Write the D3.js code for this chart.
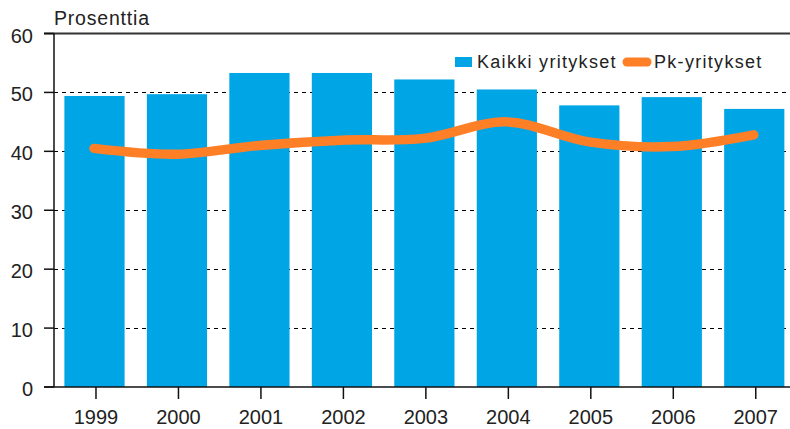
<script src="https://d3js.org/d3.v7.min.js"></script>
<style>
body { margin: 0; background: #fff; }
svg { display: block; font-family: Arial, "Liberation Sans", sans-serif; }
.tick-label { font-size: 20px; fill: #222; }
</style>
<svg width="790" height="429"></svg>
<script>
const years = ['1999', '2000', '2001', '2002', '2003', '2004', '2005', '2006', '2007'];
const kaikki = [49.4, 49.7, 53.3, 53.3, 52.2, 50.5, 47.8, 49.2, 47.2];
const pk = [40.5, 39.5, 41.0, 41.9, 42.2, 45.0, 41.6, 40.8, 42.8];
const yTicks = [0, 10, 20, 30, 40, 50, 60];

const svg = d3.select('svg');
const plotLeft = 54, plotRight = 797, plotTop = 33.5, plotBottom = 387;

const x = d3.scaleBand().domain(years).range([plotLeft + 0.75, plotRight])
  .paddingInner(0.27).paddingOuter(0.135);
const y = d3.scaleLinear().domain([0, 60]).range([plotBottom, plotTop]);

// dashed grid lines
svg.append('g')
  .selectAll('line')
  .data(yTicks.filter(d => d > 0 && d < 60))
  .join('line')
  .attr('x1', plotLeft).attr('x2', 790)
  .attr('y1', d => Math.round(y(d)) + 0.5).attr('y2', d => Math.round(y(d)) + 0.5)
  .attr('stroke', '#000')
  .attr('stroke-width', 1.2)
  .attr('stroke-dasharray', '4,4');

// bars
svg.append('g')
  .selectAll('rect')
  .data(kaikki)
  .join('rect')
  .attr('x', (d, i) => x(years[i]) - 1.5)
  .attr('width', x.bandwidth())
  .attr('y', d => y(d))
  .attr('height', d => plotBottom - y(d))
  .attr('fill', '#00a5e6');

// top frame line
svg.append('line')
  .attr('x1', 44).attr('x2', 790)
  .attr('y1', plotTop).attr('y2', plotTop)
  .attr('stroke', '#333').attr('stroke-width', 2);

// y axis
svg.append('line')
  .attr('x1', plotLeft).attr('x2', plotLeft)
  .attr('y1', plotTop).attr('y2', plotBottom)
  .attr('stroke', '#111').attr('stroke-width', 1.5);

svg.append('g')
  .selectAll('line')
  .data(yTicks)
  .join('line')
  .attr('x1', 44).attr('x2', plotLeft)
  .attr('y1', d => y(d)).attr('y2', d => y(d))
  .attr('stroke', '#111').attr('stroke-width', 1.5);

svg.append('g')
  .selectAll('text')
  .data(yTicks)
  .join('text')
  .attr('class', 'tick-label')
  .attr('x', 33)
  .attr('y', d => y(d) + 9)
  .attr('text-anchor', 'end')
  .text(d => d);

// x axis
svg.append('line')
  .attr('x1', 44).attr('x2', 790)
  .attr('y1', plotBottom).attr('y2', plotBottom)
  .attr('stroke', '#111').attr('stroke-width', 1.5);

svg.append('g')
  .selectAll('line')
  .data(years)
  .join('line')
  .attr('x1', d => x(d) + x.bandwidth() / 2).attr('x2', d => x(d) + x.bandwidth() / 2)
  .attr('y1', plotBottom).attr('y2', 399)
  .attr('stroke', '#111').attr('stroke-width', 1.5);

svg.append('g')
  .selectAll('text')
  .data(years)
  .join('text')
  .attr('class', 'tick-label')
  .attr('x', d => x(d) + x.bandwidth() / 2)
  .attr('y', 424)
  .attr('text-anchor', 'middle')
  .text(d => d);

// Pk-yritykset line
const line = d3.line()
  .x((d, i) => x(years[i]) + x.bandwidth() / 2 - 2)
  .y(d => y(d))
  .curve(d3.curveCatmullRom.alpha(0.5));

svg.append('path')
  .datum(pk)
  .attr('d', line)
  .attr('fill', 'none')
  .attr('stroke', '#ff7f27')
  .attr('stroke-width', 9.5)
  .attr('stroke-linecap', 'round')
  .attr('stroke-linejoin', 'round');

// unit label
svg.append('text')
  .attr('x', 54).attr('y', 25)
  .attr('font-size', 19.5)
  .attr('fill', '#222')
  .attr('letter-spacing', 0.8)
  .text('Prosenttia');

// legend
const legend = svg.append('g');
legend.append('rect')
  .attr('x', 455).attr('y', 57).attr('width', 17).attr('height', 10)
  .attr('fill', '#00a5e6');
legend.append('text')
  .attr('x', 477).attr('y', 68)
  .attr('font-size', 18).attr('letter-spacing', 1.3).attr('fill', '#222')
  .text('Kaikki yritykset');
legend.append('line')
  .attr('x1', 627).attr('x2', 647).attr('y1', 62).attr('y2', 62)
  .attr('stroke', '#ff7f27').attr('stroke-width', 9).attr('stroke-linecap', 'round');
legend.append('text')
  .attr('x', 654).attr('y', 68)
  .attr('font-size', 18).attr('letter-spacing', 1.3).attr('fill', '#222')
  .text('Pk-yritykset');
</script>
